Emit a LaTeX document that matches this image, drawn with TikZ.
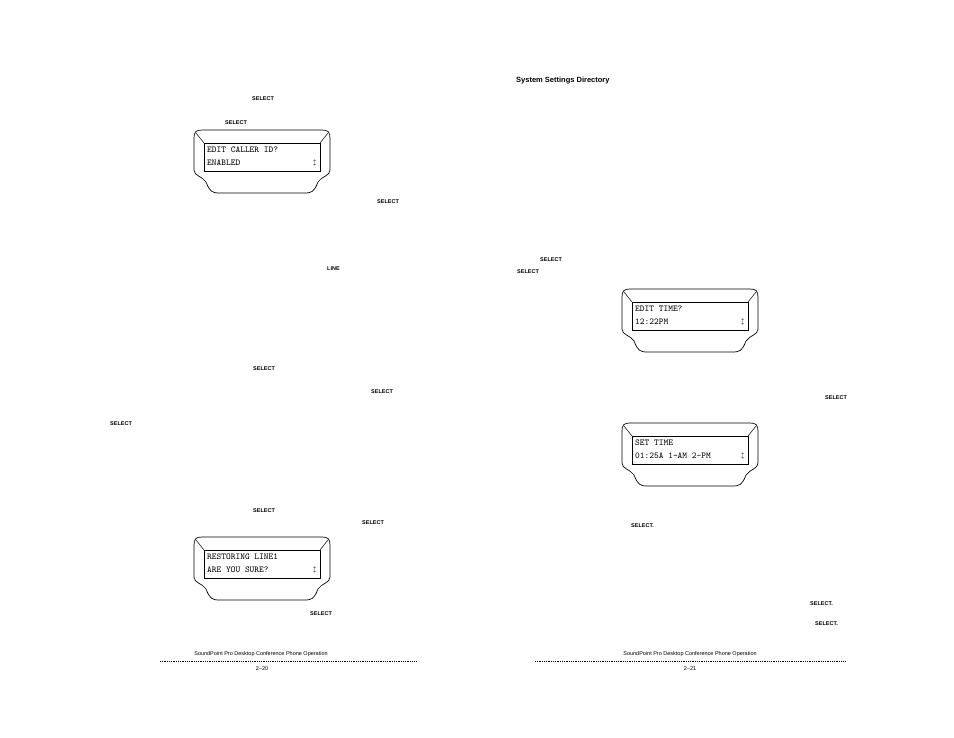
\documentclass[tikz,border=0pt]{standalone}
\usepackage{fontspec}
\setsansfont{Liberation Sans}
\tikzset{
  key/.style={font=\sffamily\bfseries\fontsize{5.5}{6}\selectfont, inner sep=0pt, anchor=west},
  foot/.style={font=\sffamily\fontsize{5.5}{6}\selectfont, inner sep=0pt},
  screen/.style={font=\ttfamily\fontsize{9}{10}\selectfont, inner sep=0pt, anchor=west},
  rule/.style={densely dotted, line width=0.8pt}
}
\newcommand{\lcdbox}[5]{%
  \draw[line width=0.7pt] (#1+8,#2) -- (#1+128,#2) .. controls (#1+134,#2) and (#1+136,#2+2) .. (#1+136,#2+8)
    -- (#1+136,#2+40) .. controls (#1+136,#2+46) and (#1+128,#2+46) .. (#1+124,#2+52)
    .. controls (#1+120,#2+62) and (#1+118,#2+63) .. (#1+110,#2+63) -- (#1+26,#2+63)
    .. controls (#1+18,#2+63) and (#1+16,#2+62) .. (#1+12,#2+52)
    .. controls (#1+8,#2+46) and (#1,#2+46) .. (#1,#2+40) -- (#1,#2+8)
    .. controls (#1,#2+2) and (#1+2,#2) .. (#1+8,#2) -- cycle;
  \draw[line width=0.5pt] (#1+2,#2+3) -- (#1+10,#2+13) (#1+134,#2+3) -- (#1+126,#2+13);
  \draw[line width=0.6pt] (#1+10,#2+13) rectangle (#1+126,#2+41);
  \node[screen] (#3a) at (#1+13,#2+20) {#4};
  \node[screen] (#3b) at (#1+13,#2+33) {#5};
  \node[screen, anchor=east] at (#1+123,#2+33) {\fontsize{6}{6}\selectfont$\updownarrow$};
}
\begin{document}
\begin{tikzpicture}[x=1pt,y=-1pt]
\useasboundingbox (0,0) rectangle (954,738);
% left page
\node[key] (s1) at (252,99) {SELECT};
\node[key] (s2) at (225,123) {SELECT};
\lcdbox{194}{130}{ca}{EDIT CALLER ID?}{ENABLED}
\node[key] (s3) at (377,202) {SELECT};
\node[key] (l1) at (327,269) {LINE};
\node[key] (s4) at (253,369) {SELECT};
\node[key] (s5) at (371,392) {SELECT};
\node[key] (s6) at (110,424) {SELECT};
\node[key] (s7) at (253,511) {SELECT};
\node[key] (s8) at (362,523) {SELECT};
\lcdbox{194}{537}{rs}{RESTORING LINE1}{ARE YOU SURE?}
\node[key] (s9) at (310,614) {SELECT};
\node[foot] (fl) at (261,654) {SoundPoint Pro Desktop Conference Phone Operation};
\draw[rule] (160,661) -- (417,661);
\node[foot] (pl) at (262,669) {2--20};
% right page
\node[key] (hd) at (516,81) {\fontsize{7.5}{8}\selectfont System Settings Directory};
\node[key] (s10) at (540,260) {SELECT};
\node[key] (s11) at (517,272) {SELECT};
\lcdbox{622}{289}{et}{EDIT TIME?}{12:22PM}
\node[key] (s12) at (825,398) {SELECT};
\lcdbox{622}{423}{st}{SET TIME}{01:25A 1-AM 2-PM}
\node[key] (s13) at (631,526) {SELECT.};
\node[key] (s14) at (810,604) {SELECT.};
\node[key] (s15) at (815,624) {SELECT.};
\node[foot] (fr) at (690,654) {SoundPoint Pro Desktop Conference Phone Operation};
\draw[rule] (535,661) -- (846,661);
\node[foot] (pr) at (690,669) {2--21};
\end{tikzpicture}
\end{document}
